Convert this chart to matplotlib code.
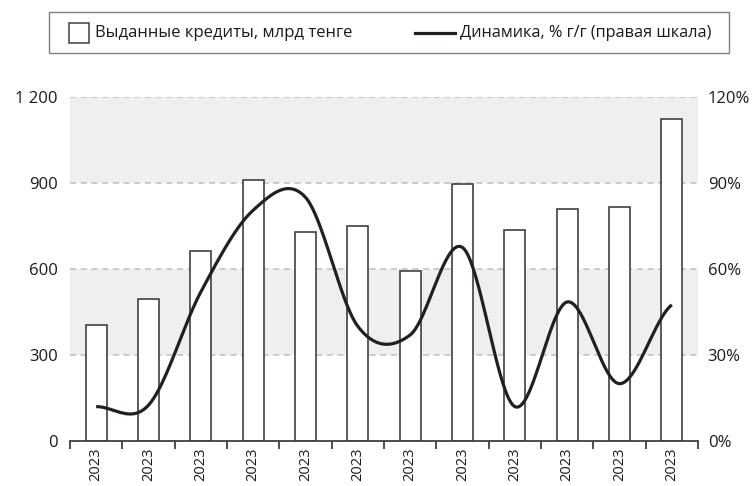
import numpy as np
import matplotlib
matplotlib.use("Agg")
import matplotlib.pyplot as plt
from matplotlib.patches import Rectangle
from matplotlib.lines import Line2D

plt.rcParams["font.family"] = ["Open Sans", "DejaVu Sans"]

# data
labels = ["2023"] * 12
loans = [405, 494, 664, 910, 729, 750, 594, 895, 736, 808, 816, 1124]  # bn tenge
growth = [12, 12.5, 52, 80.5, 85, 40, 37, 67.5, 12, 48.5, 20, 47.5]  # % y/y
left_ticks = [0, 300, 600, 900, 1200]
left_labels = ["0", "300", "600", "900", "1 200"]
right_ticks = [0, 30, 60, 90, 120]
right_labels = ["0%", "30%", "60%", "90%", "120%"]

W, H = 754, 486
FS = 12
fig = plt.figure(figsize=(W / 100, H / 100), dpi=100)


def fx(x):
    return x / W


def fy(y):
    return 1 - y / H


ax = fig.add_axes([fx(70), fy(441), (698 - 70) / W, (441 - 97) / H])
ax.set_xlim(-0.5, len(loans) - 0.5)
ax.set_ylim(0, 1200)

# shaded bands and dashed grid
for lo, hi in [(300, 600), (900, 1200)]:
    ax.axhspan(lo, hi, color="#efefef", lw=0, zorder=0)
for v in left_ticks[1:]:
    ax.axhline(v, color="#bfbfbf", lw=1.1, ls=(0, (4, 3)), zorder=1)

x = np.arange(len(loans))
ax.bar(x, loans, width=0.4, facecolor="white", edgecolor="#404040",
       lw=1.2, zorder=2)

for s in ["top", "left", "right"]:
    ax.spines[s].set_visible(False)
ax.spines["bottom"].set_color("#404040")
ax.spines["bottom"].set_linewidth(1.3)
ax.spines["bottom"].set_zorder(3)

ax.set_xticks(np.arange(-0.5, len(loans), 1))
ax.set_xticklabels([])
ax.tick_params(axis="x", which="major", length=6, width=1.3, color="#404040",
               direction="out")
ax.set_xticks(x, minor=True)
ax.set_xticklabels(labels, minor=True, rotation=90, fontsize=10.5,
                   color="#1a1a1a", va="top")
ax.tick_params(axis="x", which="minor", length=0, pad=5)

ax.set_yticks(left_ticks)
ax.set_yticklabels(left_labels, fontsize=FS, color="#1a1a1a")
ax.tick_params(axis="y", length=0, pad=9)

# right axis: smoothed growth line (Catmull-Rom style, like Excel smoothing)
ax2 = ax.twinx()
ax2.set_ylim(0, 120)
for s in ["top", "left", "right", "bottom"]:
    ax2.spines[s].set_visible(False)
ax2.set_yticks(right_ticks)
ax2.set_yticklabels(right_labels, fontsize=FS, color="#1a1a1a")
ax2.tick_params(axis="y", length=0, pad=7)

g = np.array(growth, dtype=float)
tang = np.zeros_like(g)
tang[1:-1] = (g[2:] - g[:-2]) / 2
tang[0] = (g[1] - g[0]) / 2
tang[-1] = (g[-1] - g[-2]) / 2
xs, ys = [], []
t = np.linspace(0, 1, 40)
h00 = 2 * t**3 - 3 * t**2 + 1
h10 = t**3 - 2 * t**2 + t
h01 = -2 * t**3 + 3 * t**2
h11 = t**3 - t**2
for i in range(len(g) - 1):
    xs.append(x[i] + t)
    ys.append(h00 * g[i] + h10 * tang[i] + h01 * g[i + 1] + h11 * tang[i + 1])
ax2.plot(np.concatenate(xs), np.concatenate(ys), color="#231f20", lw=2.3,
         solid_capstyle="butt", zorder=4)

# legend box drawn at the top
fig.patches.append(Rectangle((fx(49), fy(53)), (729 - 49) / W, (53 - 12) / H,
                             transform=fig.transFigure, facecolor="white",
                             edgecolor="#7f7f7f", lw=1.0))
fig.patches.append(Rectangle((fx(69), fy(43)), 20 / W, 20 / H,
                             transform=fig.transFigure, facecolor="white",
                             edgecolor="#404040", lw=1.1))
fig.text(fx(95), fy(33), "Выданные кредиты, млрд тенге", fontsize=FS,
         va="center", ha="left", color="#1a1a1a")
fig.lines.append(Line2D([fx(415), fx(455)], [fy(33), fy(33)],
                        transform=fig.transFigure, color="#231f20", lw=2.3))
fig.text(fx(460), fy(33), "Динамика, % г/г (правая шкала)", fontsize=11.7,
         va="center", ha="left", color="#1a1a1a")

fig.savefig("out.png", dpi=100)
